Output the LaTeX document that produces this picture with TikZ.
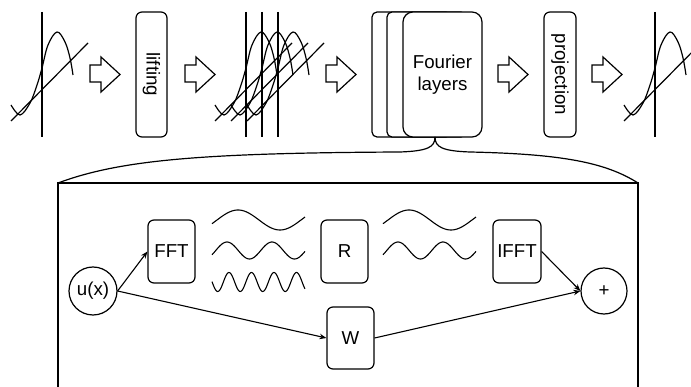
\documentclass[tikz,border=0pt]{standalone}
\usepackage{fontspec}
\setmainfont{Liberation Sans}
\usetikzlibrary{arrows.meta}
\newcommand\fnoplot[1]{%
  \begin{scope}[xshift=#1pt]
    \draw (0,12) -- (0,137);
    \draw (-31,121) -- (46,43);
    \draw plot[smooth, tension=0.6] coordinates {(-31,105) (-22,115) (-12,103) (-5,85) (0,68) (6,45) (15,32) (23,42) (28,58) (31,75)};
  \end{scope}}
\newcommand\blockarrow[1]{%
  \draw[line join=miter] (#1,65) -- (#1+11,65) -- (#1+11,57) -- (#1+30,74.5) -- (#1+11,92) -- (#1+11,82) -- (#1,82) -- cycle;}
\begin{document}
\begin{tikzpicture}[x=1pt,y=-1pt,line width=1.2pt,
  every node/.style={font=\fontsize{18.7}{22.5}\selectfont},
  rbox/.style={draw, rounded corners=6pt, inner sep=0pt, fill=white},
  circ/.style={draw, circle, inner sep=0pt},
  conn/.style={-{Stealth[length=7pt,width=5.5pt]}, line width=1.1pt}]
\useasboundingbox (0,0) rectangle (691,387);
\clip (0,0) rectangle (691,387);

% top row
\fnoplot{42}
\blockarrow{90}
\node[rbox, rotate=-90, minimum width=125pt, minimum height=31pt] (lift) at (151.5,74.5) {lifting};
\blockarrow{185}
\fnoplot{246}
\fnoplot{262}
\fnoplot{278}
\blockarrow{326}
\node[rbox, rounded corners=5pt, minimum width=79pt, minimum height=125pt] (four3) at (411.5,74.5) {};
\node[rbox, rounded corners=5pt, minimum width=79pt, minimum height=125pt] (four2) at (426.5,74.5) {};
\node[rbox, rounded corners=10pt, minimum width=79pt, minimum height=125pt, align=center] (four) at (442.5,74.5) {Fourier\\layers};
\blockarrow{498}
\node[rbox, rotate=-90, minimum width=125pt, minimum height=32pt] (proj) at (560,74.5) {projection};
\blockarrow{592}
\fnoplot{655}

% brace
\coordinate (bl) at (58,183);
\coordinate (br) at (638,183);
\coordinate (tip) at (435,137);
\draw (bl) .. controls (120,160) and (200,153) .. (400,152) .. controls (428,151) and (435,147) .. (tip);
\draw (tip) .. controls (435,147) and (442,151) .. (470,152) .. controls (560,154) and (605,162) .. (br);

% detail box
\draw (bl) -- (br) -- (638,400) -- (58,400) -- cycle;

\node[circ, minimum size=48pt] (ux) at (93,291) {u(x)};
\node[rbox, minimum width=47pt, minimum height=63pt] (fft) at (171.5,251.5) {FFT};
\node[rbox, minimum width=47pt, minimum height=63pt] (r) at (344.5,251.5) {R};
\node[rbox, minimum width=48pt, minimum height=63pt] (ifft) at (517,251.5) {IFFT};
\node[rbox, minimum width=47pt, minimum height=62pt] (w) at (350.5,338) {W};
\node[circ, minimum size=46pt] (plus) at (604,291) {+};

% waves
\foreach \s in {0,171} {
  \draw[line width=1.1pt] plot[domain=212:305, samples=80, smooth] ({\x+\s}, {220-10*sin(4.285714*(\x-238)+90)});
  \draw[line width=1.1pt] plot[domain=212:305, samples=100, smooth] ({\x+\s}, {250.5-8.5*sin(8*(\x-227)+90)});
}
\draw[line width=1.1pt] plot[domain=212:305, samples=150, smooth] (\x, {282-9.5*sin(16*(\x-229)+90)});

% connectors
\draw[conn] (ux.east) -- (fft.west);
\draw[conn] (ux.east) -- (w.west);
\draw[conn] (ifft.east) -- (plus.west);
\draw[conn] (w.east) -- (plus.west);
\end{tikzpicture}
\end{document}
